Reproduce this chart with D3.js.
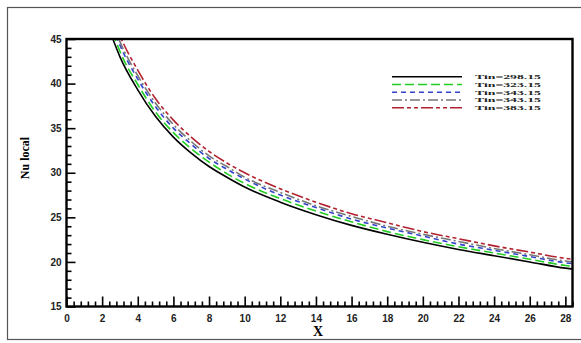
<!DOCTYPE html>
<html lang="en">
  <head>
    <title>Nu local</title>
    <script src="https://cdn.jsdelivr.net/npm/d3@7"></script>
    <style>
      body { margin: 0; background: #fff; }
    </style>
  </head>
  <body>
    <div id='main'></div>
    <script type='text/javascript'>
      // values
      let xs    = [2.6, 3, 4, 5, 6, 7, 8, 9, 10, 12, 14, 16, 18, 20, 22, 24, 26, 28, 28.4]
      let tin298 = [45.0, 43.0, 39.3, 36.3, 34.0, 32.2, 30.7, 29.5, 28.4, 26.7, 25.3, 24.1, 23.1, 22.2, 21.4, 20.7, 20.0, 19.3, 19.2]
      let tin323 = [45.7, 43.6, 39.9, 36.8, 34.5, 32.7, 31.2, 29.9, 28.8, 27.1, 25.7, 24.5, 23.4, 22.5, 21.7, 21.0, 20.3, 19.6, 19.5]
      let tin343 = [46.3, 44.3, 40.5, 37.4, 35.0, 33.2, 31.6, 30.4, 29.3, 27.5, 26.1, 24.8, 23.8, 22.9, 22.0, 21.3, 20.6, 19.9, 19.8]
      let tin343b = [46.8, 44.7, 40.9, 37.8, 35.4, 33.5, 31.9, 30.7, 29.5, 27.8, 26.3, 25.1, 24.0, 23.1, 22.3, 21.5, 20.8, 20.1, 20.0]
      let tin383 = [47.5, 45.4, 41.5, 38.3, 35.9, 34.0, 32.4, 31.1, 30.0, 28.2, 26.7, 25.4, 24.4, 23.4, 22.6, 21.8, 21.1, 20.4, 20.3]
      let labels = ['Tin=298.15', 'Tin=323.15', 'Tin=343.15', 'Tin=343.15', 'Tin=383.15']
      let xTicks = [0, 2, 4, 6, 8, 10, 12, 14, 16, 18, 20, 22, 24, 26, 28]
      let yTicks = [15, 20, 25, 30, 35, 40, 45]

      let series = [
        { name: labels[0], values: tin298, color: '#000000', dash: null },
        { name: labels[1], values: tin323, color: '#22cc22', dash: '9,4' },
        { name: labels[2], values: tin343, color: '#3344cc', dash: '5,4' },
        { name: labels[3], values: tin343b, color: '#777777', dash: '10,3,2,3' },
        { name: labels[4], values: tin383, color: '#b22230', dash: '12,3,4,3,4,3' }
      ]

      let width = 581
      let height = 343
      let pLeft = 66.5, pRight = 572.5, pTop = 39, pBottom = 306.5

      let svg = d3.select('#main').append('svg')
        .attr('width', width)
        .attr('height', height)

      // outer frame
      svg.append('rect')
        .attr('x', 7.5).attr('y', 7.5)
        .attr('width', 580).attr('height', 332)
        .attr('fill', 'none')
        .attr('stroke', '#555')
        .attr('stroke-width', 1.2)

      let scale_x = d3.scaleLinear().domain([0, 28.4]).range([pLeft, pRight])
      let scale_y = d3.scaleLinear().domain([15, 45]).range([pBottom, pTop])

      svg.append('clipPath').attr('id', 'clip')
        .append('rect')
        .attr('x', pLeft).attr('y', pTop)
        .attr('width', pRight - pLeft).attr('height', pBottom - pTop)

      let line = d3.line()
        .x((d, i) => scale_x(xs[i]))
        .y((d) => scale_y(d))
        .curve(d3.curveMonotoneX)

      svg.append('g').attr('clip-path', 'url(#clip)')
        .selectAll('path')
        .data(series)
        .enter()
        .append('path')
        .attr('d', (d) => line(d.values))
        .attr('fill', 'none')
        .attr('stroke', (d) => d.color)
        .attr('stroke-width', 1.6)
        .attr('stroke-dasharray', (d) => d.dash)

      // x axis, ticks pointing inward
      let xMinor = d3.range(0, 28.41, 0.4).filter((v) => Math.abs(v / 2 - Math.round(v / 2)) > 0.01)
      let xAxisMinor = d3.axisTop(scale_x).tickValues(xMinor).tickSize(5).tickFormat('')
      svg.append('g').attr('transform', `translate(0,${pBottom})`).call(xAxisMinor)
      let xAxis = d3.axisTop(scale_x).tickValues(xTicks).tickSize(10).tickFormat(d3.format('d'))
      let gx = svg.append('g').attr('transform', `translate(0,${pBottom})`).call(xAxis)
      gx.selectAll('text').attr('y', 14).attr('dy', '0.1em')

      let yMinor = d3.range(15, 45.01, 1).filter((v) => v % 5 != 0)
      let yAxisMinor = d3.axisRight(scale_y).tickValues(yMinor).tickSize(5).tickFormat('')
      svg.append('g').attr('transform', `translate(${pLeft},0)`).call(yAxisMinor)
      let yAxis = d3.axisRight(scale_y).tickValues(yTicks).tickSize(9).tickFormat(d3.format('d'))
      let gy = svg.append('g').attr('transform', `translate(${pLeft},0)`).call(yAxis)
      gy.selectAll('text').attr('x', -5).attr('text-anchor', 'end')

      svg.selectAll('.domain').remove()
      svg.selectAll('.tick line').attr('stroke', '#000').attr('stroke-width', 1.6)
      svg.selectAll('.tick text')
        .attr('font-family', 'Liberation Sans, Arial, sans-serif')
        .attr('font-size', '10px')
        .attr('font-weight', 'bold')
        .attr('fill', '#222')

      // plot border
      svg.append('rect')
        .attr('x', pLeft).attr('y', pTop)
        .attr('width', pRight - pLeft).attr('height', pBottom - pTop)
        .attr('fill', 'none')
        .attr('stroke', '#000')
        .attr('stroke-width', 2.4)

      // axis titles
      svg.append('text')
        .attr('x', 318).attr('y', 336)
        .attr('text-anchor', 'middle')
        .attr('font-family', 'Liberation Serif, Times New Roman, serif')
        .attr('font-weight', 'bold')
        .attr('font-size', '14px')
        .text('X')

      svg.append('text')
        .attr('transform', 'translate(29,158) rotate(-90)')
        .attr('text-anchor', 'middle')
        .attr('font-family', 'Liberation Serif, Times New Roman, serif')
        .attr('font-weight', 'bold')
        .attr('font-size', '12px')
        .text('Nu local')

      // legend
      let legend = svg.selectAll('.legend')
        .data(series)
        .enter()
        .append('g')
        .attr('class', 'legend')
        .attr('transform', (d, i) => `translate(392,${76.7 + i * 7.75})`)

      legend.append('line')
        .attr('x1', 0).attr('x2', 70)
        .attr('stroke', (d) => d.color)
        .attr('stroke-width', 1.4)
        .attr('stroke-dasharray', (d) => d.dash)

      legend.append('text')
        .attr('x', 83).attr('y', 2.5)
        .attr('font-family', 'Liberation Serif, Times New Roman, serif')
        .attr('font-size', '6.6px')
        .attr('font-weight', 'bold')
        .attr('fill', '#222')
        .attr('textLength', 66)
        .attr('lengthAdjust', 'spacingAndGlyphs')
        .text((d) => d.name)
    </script>
  </body>
</html>
